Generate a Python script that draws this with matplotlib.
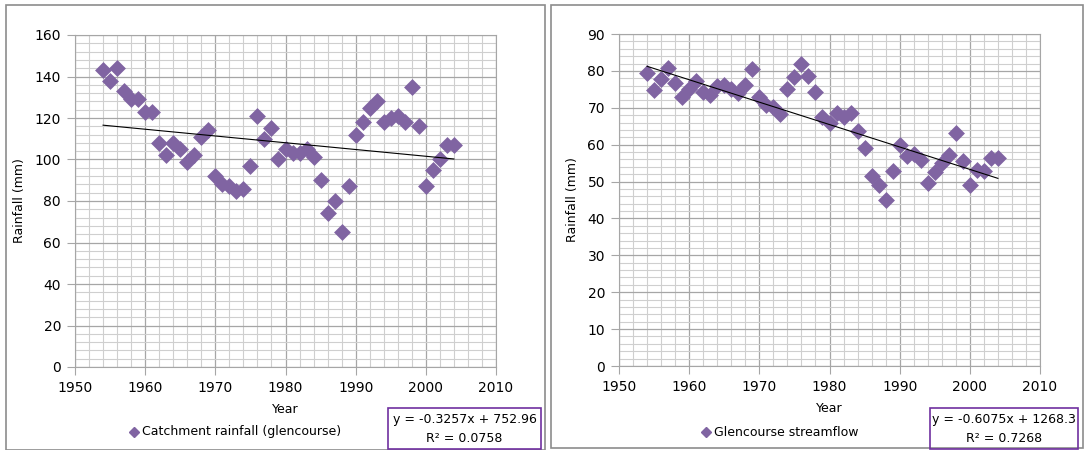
import numpy as np
import matplotlib
matplotlib.use('Agg')
import matplotlib.pyplot as plt
from matplotlib.patches import Rectangle
from matplotlib.lines import Line2D

matplotlib.rcParams['font.family'] = 'DejaVu Sans'

# Data
years = list(range(1954, 2005))

rainfall = [143, 138, 144, 133, 129, 129, 123, 123, 108, 102,
            108, 105, 99, 102, 111, 114, 92, 88, 87, 85,
            86, 97, 121, 110, 115, 100, 105, 103, 103, 105,
            101, 90, 74, 80, 65, 87, 112, 118, 125, 128,
            118, 120, 121, 118, 135, 116, 87, 95, 100, 107, 107]

streamflow = [79.5, 74.8, 77.8, 80.8, 76.8, 72.8, 75.0, 77.2, 74.3, 73.5,
              75.8, 76.2, 75.0, 74.0, 76.2, 80.5, 72.8, 70.8, 70.2, 68.3,
              75.0, 78.3, 81.8, 78.5, 74.3, 67.5, 66.0, 68.5, 67.5, 68.5,
              63.8, 59.0, 51.5, 49.0, 45.0, 52.8, 60.0, 57.0, 57.5, 55.8,
              49.5, 52.5, 55.0, 57.3, 63.2, 55.5, 49.0, 53.0, 52.8, 56.5, 56.5]

# trendline coefficients shown on the chart
rain_slope, rain_icpt, rain_r2 = -0.3257, 752.96, 0.0758
flow_slope, flow_icpt, flow_r2 = -0.6075, 1268.3, 0.7268

purple = '#8064A2'
W, H = 1085, 450
fontsize = 10

fig = plt.figure(figsize=(W / 100, H / 100), dpi=100)
fig.patch.set_facecolor('white')


def px(x0, y0, x1, y1):
    # pixel box (top-left origin) -> figure fraction rect
    return [x0 / W, 1 - y1 / H, (x1 - x0) / W, (y1 - y0) / H]


def make_panel(rect, yvals, ymax, ymaj, slope, icpt, r2, name, box_x, leg_x):
    ax = fig.add_axes(rect)
    ax.scatter(years, yvals, marker='D', s=74, color=purple, zorder=3, linewidths=0)
    xs = np.array([years[0], years[-1]])
    ax.plot(xs, slope * xs + icpt, color='black', lw=0.8, zorder=4)
    ax.set_xlim(1950, 2010)
    ax.set_ylim(0, ymax)
    ax.set_xticks(np.arange(1950, 2011, 10))
    ax.set_xticks(np.arange(1950, 2011, 2), minor=True)
    ax.set_yticks(np.arange(0, ymax + 1, ymaj))
    ax.set_yticks(np.arange(0, ymax + 0.1, ymaj / 5), minor=True)
    ax.grid(which='major', color='#a6a6a6', lw=0.9, zorder=0)
    ax.grid(which='minor', color='#cfcfcf', lw=0.8, zorder=0)
    ax.set_axisbelow(True)
    for s in ax.spines.values():
        s.set_color('#a6a6a6')
    ax.tick_params(which='major', length=6, color='#a6a6a6', labelsize=fontsize, pad=4)
    ax.tick_params(which='minor', length=0)
    ax.set_xlabel('Year', fontsize=9, labelpad=6)
    ax.set_ylabel('Rainfall (mm)', fontsize=9, labelpad=6)

    # legend below the axes
    fig.add_artist(Line2D([leg_x / W], [1 - 432 / H], marker='D', markersize=5,
                          color=purple, lw=0, transform=fig.transFigure))
    fig.text((leg_x + 8) / W, 1 - 432 / H, name, fontsize=9, va='center', ha='left')

    # equation box
    bx0, bx1 = box_x
    fig.add_artist(Rectangle((bx0 / W, 1 - 449 / H), (bx1 - bx0) / W, 41 / H,
                             transform=fig.transFigure, fill=False,
                             edgecolor='#7030A0', lw=1.2))
    cx = (bx0 + bx1) / 2 / W
    sign = '-' if slope < 0 else ''
    fig.text(cx, 1 - 420 / H, 'y = %s%.4fx + %s' % (sign, abs(slope), icpt),
             fontsize=9, ha='center', va='center')
    fig.text(cx, 1 - 438 / H, 'R² = %.4f' % r2, fontsize=9, ha='center', va='center')
    return ax


# panel borders
fig.add_artist(Rectangle((6 / W, 0), 539 / W, 1 - 5 / H, transform=fig.transFigure,
                         fill=False, edgecolor='#8c8c8c', lw=1.2))
fig.add_artist(Rectangle((551 / W, 1 - 448 / H), 532 / W, 443 / H, transform=fig.transFigure,
                         fill=False, edgecolor='#8c8c8c', lw=1.2))

make_panel(px(75, 35, 496, 367), rainfall, 160, 20, rain_slope, rain_icpt, rain_r2,
           'Catchment rainfall (glencourse)', (388, 541), 134)
make_panel(px(619, 34, 1040, 366), streamflow, 90, 10, flow_slope, flow_icpt, flow_r2,
           'Glencourse streamflow', (930, 1078), 706)

plt.savefig('out.png', dpi=100)
